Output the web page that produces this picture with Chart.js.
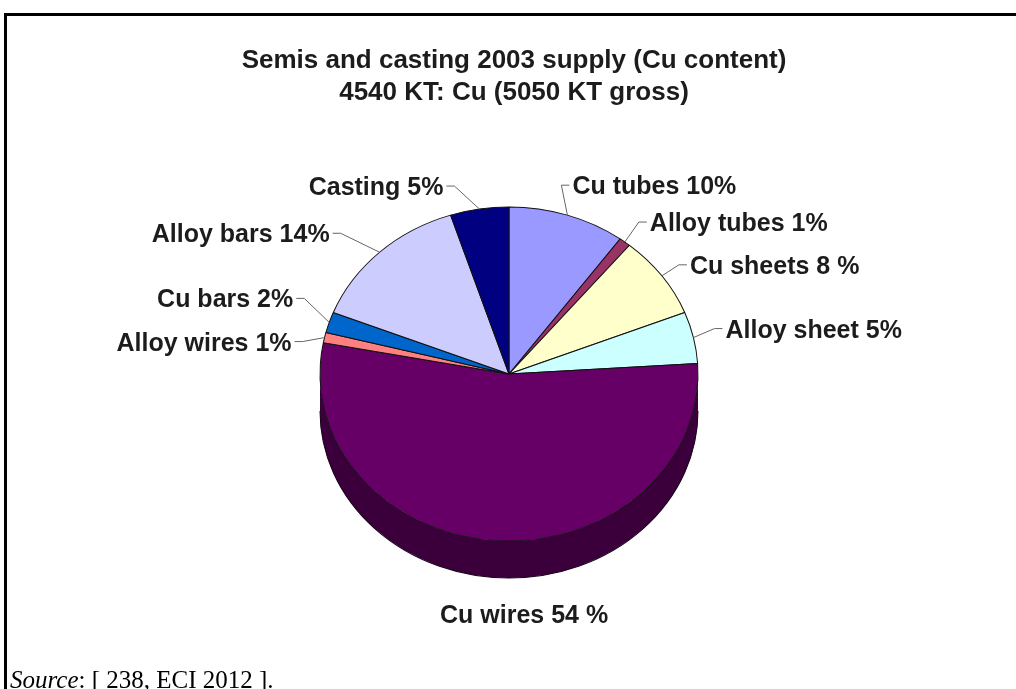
<!DOCTYPE html>
<html>
<head>
<meta charset="utf-8">
<script src="https://cdn.jsdelivr.net/npm/chart.js@4.4.0/dist/chart.umd.min.js"></script>
<style>
  html, body { margin: 0; padding: 0; background: #fff; }
  #wrap { position: relative; width: 1016px; height: 689px; overflow: hidden; }
  #frame { position: absolute; left: 4px; top: 13px; width: 1100px; height: 800px;
           border-top: 3px solid #000; border-left: 3px solid #000; }
  #pie { position: absolute; left: 0; top: 0; }
  #source { position: absolute; left: 10px; top: 666px; white-space: nowrap;
            font: 25px "Liberation Serif", "Times New Roman", serif; color: #000; }
</style>
</head>
<body>
<div id="wrap">
  <div id="frame"></div>
  <canvas id="pie" width="1016" height="689"></canvas>
  <div id="source"><i>Source</i>: [ 238, ECI 2012 ].</div>
</div>
<script>
// Semis and casting supply split, percent of Cu content
const categories = ['Cu tubes', 'Alloy tubes', 'Cu sheets', 'Alloy sheet', 'Cu wires',
                    'Alloy wires', 'Cu bars', 'Alloy bars', 'Casting'];
const shares = [10, 1, 8, 5, 54, 1, 2, 14, 5];
const titleLines = ['Semis and casting 2003 supply (Cu content)', '4540 KT: Cu (5050 KT gross)'];

const fills = ['#9999ff', '#993366', '#ffffcc', '#ccffff', '#660066',
               '#ff8080', '#0066cc', '#ccccff', '#000080'];
// these two labels were typed with a space before the percent sign
const spacedPct = ['Cu sheets', 'Cu wires'];

// tilted pie: ellipse centre/radii and height of the rim
const ELL = { cx: 509, cy: 374, rx: 189, ry: 167, depth: 37 };

// label baseline offset from the slice's rim point, and which side the text hangs from
const labelPos = [
  [5, -21, 'left'], [25, -11, 'left'], [28, -2, 'left'], [32, 0, 'left'],
  [27, 82, 'center'],
  [-33, 13, 'right'], [-36, -15, 'right'], [-50, -10, 'right'], [-36, -14, 'right']
];

const SANS = '"Liberation Sans", Arial, sans-serif';

function shade(hex, f) {
  const n = parseInt(hex.slice(1), 16);
  const r = Math.round(((n >> 16) & 255) * f);
  const g = Math.round(((n >> 8) & 255) * f);
  const b = Math.round((n & 255) * f);
  return `rgb(${r},${g},${b})`;
}

const pie3d = {
  id: 'pie3d',
  beforeDatasetsDraw(chart) {
    const ctx = chart.ctx;
    const arcs = chart.getDatasetMeta(0).data;
    const a0 = arcs[0];
    const r = a0.outerRadius;
    ctx.save();
    ctx.translate(ELL.cx, ELL.cy);
    ctx.scale(ELL.rx / r, ELL.ry / r);
    ctx.translate(-a0.x, -a0.y);
    const d = ELL.depth * r / ELL.ry;
    // rim walls, only the half facing the viewer
    arcs.forEach((arc, i) => {
      const s = Math.max(arc.startAngle, 0);
      const e = Math.min(arc.endAngle, Math.PI);
      if (e <= s) return;
      ctx.beginPath();
      ctx.arc(arc.x, arc.y, r, s, e);
      ctx.arc(arc.x, arc.y + d, r, e, s, true);
      ctx.closePath();
      ctx.fillStyle = shade(fills[i], 0.58);
      ctx.fill();
      ctx.beginPath();
      ctx.arc(arc.x, arc.y + d, r, s, e);
      ctx.strokeStyle = '#1a001a';
      ctx.lineWidth = 1;
      ctx.stroke();
    });
  },
  afterDatasetsDraw(chart) {
    chart.ctx.restore();
  },
  afterDraw(chart) {
    const ctx = chart.ctx;
    ctx.save();
    ctx.fillStyle = '#1c1c1c';
    ctx.textAlign = 'center';
    ctx.textBaseline = 'alphabetic';
    ctx.font = `bold 26px ${SANS}`;
    ctx.fillText(titleLines[0], 514, 68);
    ctx.fillText(titleLines[1], 514, 100);

    ctx.font = `bold 25px ${SANS}`;
    chart.getDatasetMeta(0).data.forEach((arc, i) => {
      const mid = (arc.startAngle + arc.endAngle) / 2;
      const ax = ELL.cx + ELL.rx * Math.cos(mid);
      const ay = ELL.cy + ELL.ry * Math.sin(mid);
      const [dx, dy, align] = labelPos[i];
      const tx = ax + dx, ty = ay + dy;
      const sep = spacedPct.includes(categories[i]) ? ' %' : '%';
      const text = `${categories[i]} ${shares[i]}${sep}`;
      ctx.textAlign = align;
      ctx.fillStyle = '#1c1c1c';
      ctx.fillText(text, tx, ty);
      if (align === 'center') return;
      const side = align === 'left' ? -1 : 1;
      ctx.beginPath();
      ctx.moveTo(ax, ay);
      ctx.lineTo(tx + side * 11, ty - 9);
      ctx.lineTo(tx + side * 3, ty - 9);
      ctx.strokeStyle = '#666';
      ctx.lineWidth = 1;
      ctx.stroke();
    });
    ctx.restore();
  }
};

new Chart(document.getElementById('pie'), {
  type: 'pie',
  data: {
    labels: categories,
    datasets: [{
      data: shares,
      backgroundColor: fills,
      borderColor: '#111',
      borderWidth: 1
    }]
  },
  options: {
    responsive: false,
    devicePixelRatio: 1,
    animation: false,
    events: [],
    layout: { padding: { top: 150, bottom: 150, left: 319, right: 319 } },
    plugins: { legend: { display: false }, tooltip: { enabled: false }, title: { display: false } }
  },
  plugins: [pie3d]
});
</script>
</body>
</html>
